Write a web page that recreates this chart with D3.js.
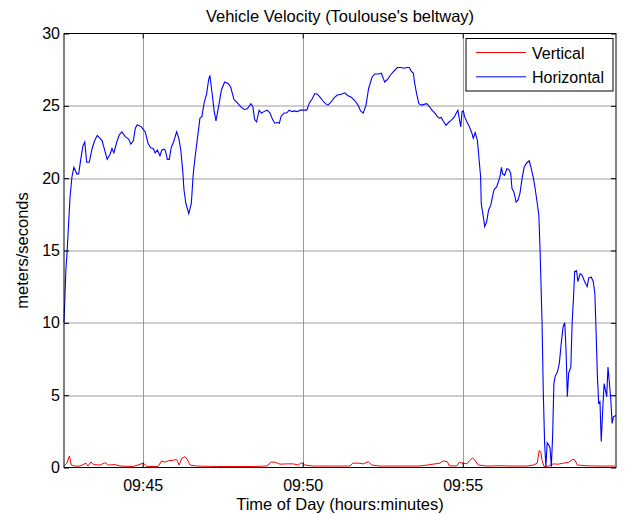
<!DOCTYPE html>
<html>
<head>
<meta charset="utf-8">
<script src="https://cdn.jsdelivr.net/npm/d3@7"></script>
<style>
  html, body { margin: 0; padding: 0; background: #fff; }
  svg { display: block; font-family: "Liberation Sans", Arial, sans-serif; }
</style>
</head>
<body>
<svg id="chart" width="626" height="515"></svg>
<script>
// Times are minutes past 09:00; velocities in m/s.
const chartTitle = "Vehicle Velocity (Toulouse's beltway)";
const xTitle = "Time of Day (hours:minutes)";
const yTitle = "meters/seconds";
const seriesNames = ["Vertical", "Horizontal"];
const seriesColors = ["#ff0000", "#0000ff"];
const timeRange = [42.541, 59.791];
const yTicks = [0, 5, 10, 15, 20, 25, 30];

const horizontalTime = [
  42.54, 42.60, 42.64, 42.73, 42.79, 42.85, 42.94, 43.00, 43.06, 43.13, 43.19, 43.25, 43.33, 43.42, 43.50, 43.58,
  43.73, 43.81, 43.89, 43.98, 44.04, 44.10, 44.19, 44.27, 44.35, 44.46, 44.56, 44.63, 44.71, 44.77, 44.83, 44.96,
  45.08, 45.17, 45.25, 45.33, 45.39, 45.46, 45.54, 45.60, 45.67, 45.71, 45.77, 45.83, 45.89, 45.98, 46.06, 46.13,
  46.19, 46.25, 46.29, 46.35, 46.44, 46.52, 46.58, 46.64, 46.71, 46.79, 46.85, 46.92, 47.00, 47.06, 47.10, 47.17,
  47.23, 47.29, 47.38, 47.46, 47.56, 47.67, 47.75, 47.85, 47.96, 48.06, 48.17, 48.27, 48.38, 48.44, 48.50, 48.56,
  48.64, 48.71, 48.79, 48.89, 48.98, 49.06, 49.13, 49.21, 49.27, 49.33, 49.42, 49.50, 49.58, 49.67, 49.75, 49.83,
  49.92, 50.02, 50.13, 50.21, 50.29, 50.38, 50.46, 50.54, 50.63, 50.71, 50.79, 50.88, 50.98, 51.08, 51.21, 51.31,
  51.42, 51.52, 51.63, 51.73, 51.81, 51.89, 51.98, 52.06, 52.17, 52.25, 52.38, 52.46, 52.52, 52.56, 52.64, 52.75,
  52.85, 52.96, 53.06, 53.17, 53.25, 53.33, 53.39, 53.46, 53.50, 53.56, 53.63, 53.71, 53.79, 53.88, 53.96, 54.04,
  54.13, 54.21, 54.27, 54.33, 54.39, 54.48, 54.56, 54.64, 54.73, 54.79, 54.85, 54.89, 54.94, 54.98, 55.02, 55.06,
  55.13, 55.21, 55.29, 55.33, 55.39, 55.46, 55.50, 55.56, 55.58, 55.63, 55.69, 55.75, 55.81, 55.88, 55.92, 55.98,
  56.06, 56.13, 56.17, 56.21, 56.25, 56.31, 56.38, 56.44, 56.50, 56.54, 56.60, 56.67, 56.73, 56.79, 56.85, 56.92,
  57.00, 57.08, 57.14, 57.21, 57.27, 57.33, 57.38, 57.42, 57.48, 57.52, 57.56, 57.60, 57.64, 57.69, 57.73, 57.77,
  57.81, 57.85, 57.89, 57.96, 58.02, 58.08, 58.14, 58.19, 58.23, 58.27, 58.31, 58.38, 58.42, 58.46, 58.50, 58.56,
  58.60, 58.67, 58.73, 58.81, 58.89, 58.94, 59.02, 59.08, 59.13, 59.17, 59.21, 59.25, 59.29, 59.33, 59.38, 59.42,
  59.46, 59.50, 59.54, 59.58, 59.63, 59.67, 59.71, 59.79
];
const horizontalVelocity = [
  10.0, 13.65, 15.0, 18.7, 20.1, 20.75, 20.3, 20.3, 21.25, 22.2, 22.5, 21.1, 21.1, 22.05, 22.6, 22.95,
  22.6, 21.95, 21.3, 21.65, 22.05, 21.75, 22.5, 23.0, 23.2, 22.85, 22.7, 22.35, 22.6, 23.45, 23.7, 23.55,
  23.2, 22.4, 22.1, 22.05, 21.75, 21.95, 21.55, 21.95, 22.0, 21.9, 21.3, 21.3, 22.1, 22.6, 23.2, 22.75,
  21.95, 20.55, 19.2, 18.25, 17.55, 18.25, 20.3, 21.5, 22.75, 24.15, 24.25, 25.2, 25.85, 26.8, 27.1, 25.85,
  24.7, 23.95, 25.05, 26.1, 26.65, 26.55, 26.3, 25.45, 25.2, 24.95, 24.75, 24.8, 25.15, 24.95, 24.05, 23.9,
  24.7, 24.5, 24.6, 24.7, 24.5, 24.05, 23.8, 23.85, 23.8, 24.3, 24.5, 24.5, 24.7, 24.6, 24.65, 24.6,
  24.7, 24.7, 24.7, 25.2, 25.45, 25.85, 25.8, 25.6, 25.35, 25.15, 25.05, 25.25, 25.55, 25.75, 25.8, 25.9,
  25.7, 25.6, 25.35, 25.05, 24.65, 24.5, 25.05, 26.2, 27.0, 27.2, 27.2, 27.25, 26.9, 26.65, 26.8, 27.15,
  27.4, 27.65, 27.65, 27.6, 27.65, 27.65, 27.4, 27.25, 26.55, 25.85, 25.15, 25.05, 25.1, 25.15, 24.95, 24.7,
  24.5, 24.25, 24.15, 24.2, 23.95, 23.65, 23.85, 24.0, 24.2, 24.45, 24.7, 24.15, 23.55, 24.6, 24.65, 24.25,
  23.9, 23.55, 23.1, 22.75, 23.15, 22.6, 21.6, 20.1, 18.25, 17.55, 16.65, 17.0, 17.8, 18.15, 18.6, 19.2,
  19.4, 19.85, 20.15, 20.75, 20.3, 20.2, 20.65, 20.6, 20.35, 19.3, 19.05, 18.35, 18.5, 18.95, 19.9, 20.75,
  21.05, 21.2, 20.7, 20.0, 19.2, 18.25, 17.45, 14.9, 10.0, 5.1, 1.7, 0.05, 1.7, 1.55, 1.35, 0.05,
  2.15, 5.8, 6.3, 6.6, 7.2, 8.6, 9.75, 10.0, 8.1, 4.9, 6.5, 6.95, 10.0, 11.6, 13.55, 13.6,
  12.85, 13.4, 13.3, 12.85, 12.5, 13.1, 13.15, 12.85, 12.05, 9.3, 6.3, 4.45, 4.55, 1.8, 4.2, 5.8,
  5.35, 4.9, 6.95, 5.95, 4.65, 3.05, 3.5, 3.6
];

const verticalTime = [
  42.54, 42.63, 42.71, 42.77, 42.88, 43.04, 43.23, 43.29, 43.38, 43.46, 43.67, 43.82, 43.93, 44.14, 44.29, 44.70,
  45.02, 45.13, 45.48, 45.59, 45.70, 45.80, 45.96, 46.06, 46.14, 46.22, 46.32, 46.39, 46.48, 46.69, 47.31, 47.83,
  48.46, 48.88, 49.00, 49.13, 49.29, 49.50, 49.71, 49.86, 49.97, 50.07, 50.33, 50.54, 50.96, 51.48, 51.56, 51.74,
  51.89, 52.05, 52.16, 52.42, 53.04, 53.67, 54.29, 54.39, 54.52, 54.58, 54.81, 54.89, 55.02, 55.13, 55.21, 55.31,
  55.38, 55.49, 55.75, 56.17, 56.58, 57.00, 57.21, 57.33, 57.39, 57.44, 57.48, 57.54, 57.68, 57.83, 57.99, 58.14,
  58.30, 58.44, 58.51, 58.58, 58.88, 59.29, 59.76
];
const verticalVelocity = [
  0.1, 0.3, 0.8, 0.17, 0.1, 0.1, 0.3, 0.1, 0.38, 0.2, 0.17, 0.33, 0.17, 0.2, 0.1, 0.07,
  0.3, 0.07, 0.07, 0.45, 0.37, 0.47, 0.5, 0.57, 0.17, 0.63, 0.75, 0.57, 0.17, 0.1, 0.07, 0.07,
  0.07, 0.1, 0.37, 0.37, 0.23, 0.25, 0.25, 0.17, 0.33, 0.17, 0.1, 0.1, 0.1, 0.1, 0.3, 0.3,
  0.25, 0.4, 0.17, 0.1, 0.1, 0.1, 0.3, 0.45, 0.4, 0.12, 0.1, 0.35, 0.3, 0.25, 0.47, 0.67,
  0.5, 0.17, 0.1, 0.12, 0.1, 0.1, 0.17, 0.3, 1.17, 1.1, 0.5, 0.07, 0.1, 0.25, 0.23, 0.3,
  0.35, 0.57, 0.5, 0.17, 0.12, 0.1, 0.1
];

const W = 626, H = 515;
const margin = { top: 33.5, right: 10, bottom: 47.5, left: 64 };
const iw = W - margin.left - margin.right;
const ih = H - margin.top - margin.bottom;

// minutes past 09:00 -> Date
const base = new Date(2000, 0, 1, 9, 0, 0);
const toDate = m => new Date(base.getTime() + m * 60000);

const x = d3.scaleTime().domain(timeRange.map(toDate)).range([0, iw]);
const y = d3.scaleLinear().domain([0, 30]).range([ih, 0]);
const xTickDates = x.ticks(d3.timeMinute.every(5));
const fmt = d3.timeFormat("%H:%M");

const svg = d3.select("#chart");
const g = svg.append("g").attr("transform", `translate(${margin.left},${margin.top})`);

// grid
g.append("g").selectAll("line").data(xTickDates).join("line")
  .attr("x1", d => Math.round(x(d)) + 0.5).attr("x2", d => Math.round(x(d)) + 0.5)
  .attr("y1", 0).attr("y2", ih)
  .attr("stroke", "#8c8c8c").attr("stroke-width", 1).attr("stroke-opacity", 0.85);
g.append("g").selectAll("line").data(yTicks.slice(1, -1)).join("line")
  .attr("x1", 0).attr("x2", iw)
  .attr("y1", d => Math.round(y(d)) + 0.5).attr("y2", d => Math.round(y(d)) + 0.5)
  .attr("stroke", "#8c8c8c").attr("stroke-width", 1).attr("stroke-opacity", 0.85);

// series
const makeLine = (ts, vs) => d3.line()
  .x((d, i) => x(toDate(ts[i])))
  .y((d, i) => y(vs[i]))(vs);

g.append("path").attr("d", makeLine(verticalTime, verticalVelocity))
  .attr("fill", "none").attr("stroke", seriesColors[0]).attr("stroke-width", 1);
g.append("path").attr("d", makeLine(horizontalTime, horizontalVelocity))
  .attr("fill", "none").attr("stroke", seriesColors[1]).attr("stroke-width", 1.1);

// axes (ticks pointing inward, on all four sides)
const tickLen = 5;
const xAxis = d3.axisBottom(x).tickValues(xTickDates).tickFormat(fmt).tickSizeInner(-tickLen).tickSizeOuter(0).tickPadding(12);
const yAxis = d3.axisLeft(y).tickValues(yTicks).tickSizeInner(-tickLen).tickSizeOuter(0).tickPadding(4);
const xAxisTop = d3.axisTop(x).tickValues(xTickDates).tickFormat("").tickSizeInner(-tickLen).tickSizeOuter(0);
const yAxisRight = d3.axisRight(y).tickValues(yTicks).tickFormat("").tickSizeInner(-tickLen).tickSizeOuter(0);

function styleAxis(sel) {
  sel.select(".domain").remove();
  sel.selectAll("line").attr("stroke", "#000");
  sel.selectAll("text").attr("font-size", 16).attr("fill", "#000")
    .attr("font-family", '"Liberation Sans", Arial, sans-serif');
}
g.append("g").attr("transform", `translate(0,${ih})`).call(xAxis).call(styleAxis);
g.append("g").call(yAxis).call(styleAxis);
g.append("g").call(xAxisTop).call(styleAxis);
g.append("g").attr("transform", `translate(${iw},0)`).call(yAxisRight).call(styleAxis);

// frame
g.append("rect").attr("x", 0).attr("y", 0).attr("width", iw).attr("height", ih)
  .attr("fill", "none").attr("stroke", "#000").attr("stroke-width", 1);

// titles
svg.append("text").attr("x", margin.left + iw / 2).attr("y", 22)
  .attr("text-anchor", "middle").attr("font-size", 16.5).text(chartTitle);
svg.append("text").attr("x", margin.left + iw / 2).attr("y", 510)
  .attr("text-anchor", "middle").attr("font-size", 16.5).text(xTitle);
svg.append("text").attr("transform", `translate(28,${margin.top + ih / 2}) rotate(-90)`)
  .attr("text-anchor", "middle").attr("font-size", 16.5).text(yTitle);

// legend
const lg = svg.append("g").attr("transform", "translate(466,38.5)");
lg.append("rect").attr("width", 147).attr("height", 52.5)
  .attr("fill", "#fff").attr("stroke", "#000").attr("stroke-width", 1);
seriesNames.forEach((name, i) => {
  const yy = 14 + i * 24.3;
  lg.append("line").attr("x1", 10).attr("x2", 60).attr("y1", yy).attr("y2", yy)
    .attr("stroke", seriesColors[i]).attr("stroke-width", 1);
  lg.append("text").attr("x", 66).attr("y", yy + 6).attr("font-size", 16).text(name);
});
</script>
</body>
</html>
